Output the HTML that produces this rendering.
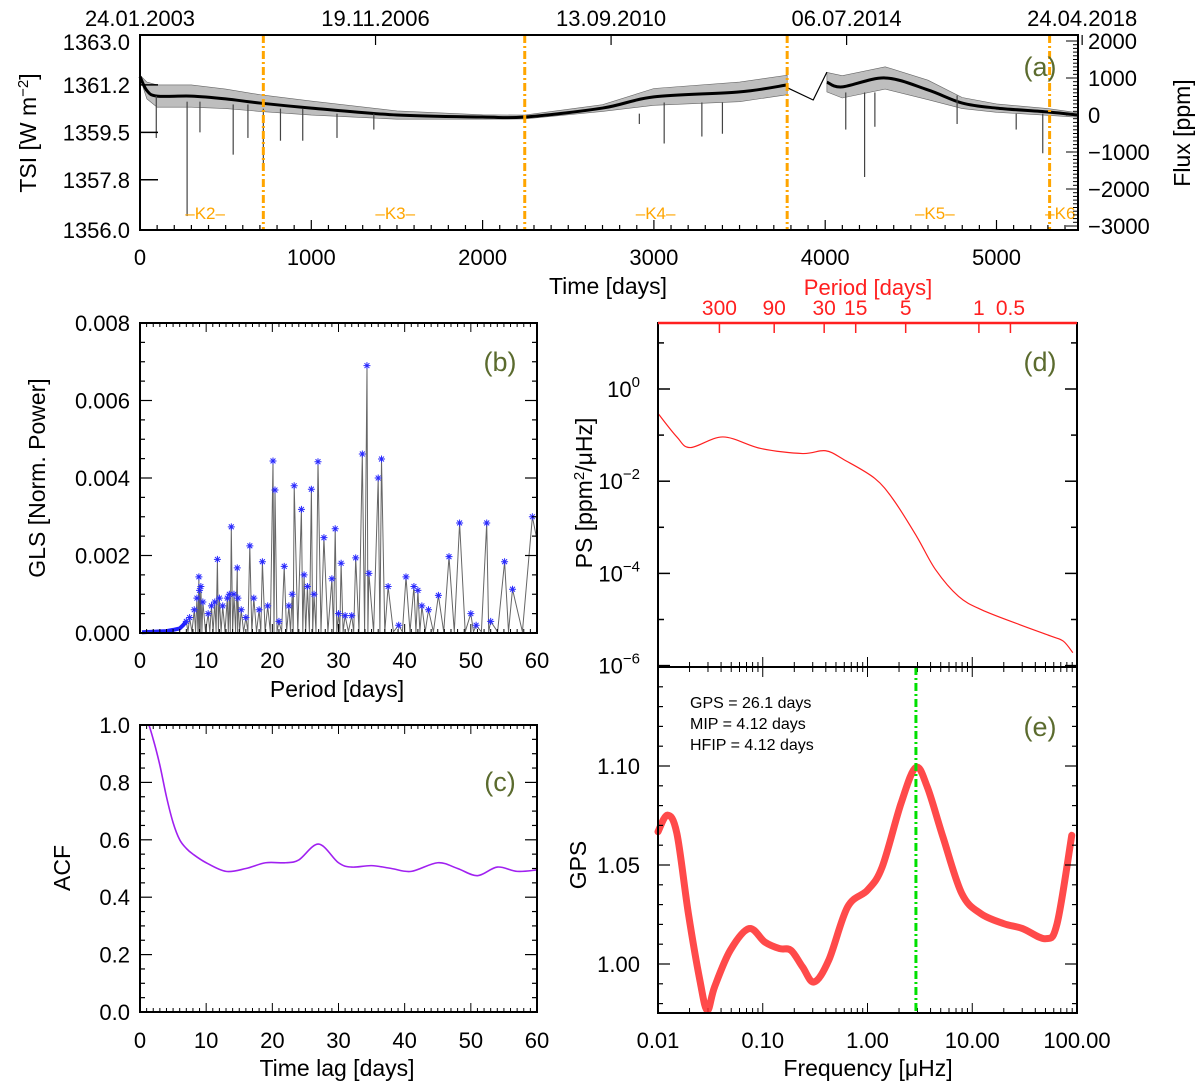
<!DOCTYPE html>
<html><head><meta charset="utf-8"><style>
html,body{margin:0;padding:0;background:#fff;}
svg{display:block;font-family:"Liberation Sans",sans-serif;}
</style></head><body>
<svg id="fig" width="1200" height="1089" viewBox="0 0 1200 1089" xmlns="http://www.w3.org/2000/svg">
<g id="g"></g>
</svg>
<script>
// ---------- DATA ----------
// Panel (a) TSI
const tsiDays1 = [0,40,100,300,500,700,1000,1500,2000,2246,2700,3000,3500,3778];
const tsiVals1 = [1361.5,1361.0,1360.8,1360.8,1360.7,1360.55,1360.37,1360.12,1360.05,1360.05,1360.37,1360.77,1360.95,1361.2];
const tsiBand1 = [0.05,0.3,0.4,0.4,0.35,0.3,0.25,0.15,0.08,0.07,0.12,0.3,0.35,0.35];
const tsiDays2 = [4010,4100,4350,4600,4800,5000,5300,5476];
const tsiVals2 = [1361.3,1361.13,1361.45,1361.02,1360.55,1360.37,1360.23,1360.12];
const tsiBand2 = [0.35,0.4,0.4,0.35,0.2,0.15,0.12,0.08];
const gapDays = [3778,3930,4010];
const gapVals = [1361.1,1360.66,1361.66];
const dipDays = [95,275,350,544,630,720,820,950,1150,1365,2915,3060,3280,3400,4120,4230,4290,4770,5115,5270];
const dipVals = [1359.3,1356.5,1359.5,1358.7,1359.3,1358.2,1359.2,1359.2,1359.3,1359.6,1359.8,1359.1,1359.35,1359.45,1359.6,1357.9,1359.7,1359.8,1359.6,1358.75];
const kBounds = [720,2246,3778,5310];
const kLabels = ["K2","K3","K4","K5","K6"];
const kLabelDays = [380,1490,3010,4640,5400];
const dateLabels = ["24.01.2003","19.11.2006","13.09.2010","06.07.2014","24.04.2018"];
const dateDays = [0,1375,2750,4125,5500];
const tsiTicks = [1363.0,1361.2,1359.5,1357.8,1356.0];
const fluxTicks = [2000,1000,0,-1000,-2000,-3000];
// Panel (b) GLS
const glsPeakP = [7.0,7.5,8.2,8.6,8.9,9.0,9.2,9.5,10.3,10.8,11.3,11.7,12.0,12.5,13.2,13.5,13.8,14.2,14.7,14.8,15.3,16.0,16.6,17.2,18.0,18.5,19.3,20.1,20.4,21.0,21.8,22.5,23.0,23.3,24.4,24.8,25.3,25.9,26.3,26.9,27.8,29.0,29.5,30.0,30.4,31.0,32.0,32.6,33.6,34.3,34.6,36.0,36.5,37.5,39.1,40.2,41.4,42.0,42.6,43.6,45.1,46.7,48.3,50.0,50.8,52.4,53.0,55.1,56.3,59.3];
const glsPeakV = [0.0003,0.0004,0.0006,0.0009,0.00145,0.0011,0.0012,0.0008,0.0005,0.0007,0.0008,0.0019,0.0009,0.0007,0.0009,0.001,0.00274,0.001,0.00168,0.0009,0.0006,0.0004,0.00225,0.0009,0.0006,0.00184,0.0007,0.00444,0.00369,0.0003,0.00172,0.0007,0.001,0.0038,0.00319,0.0015,0.0012,0.00371,0.001,0.00442,0.00246,0.0014,0.00269,0.0005,0.0018,0.00045,0.00045,0.00194,0.00462,0.0069,0.00154,0.004,0.00449,0.0012,0.0002,0.00145,0.0012,0.0011,0.0007,0.0006,0.00097,0.00197,0.00284,0.0005,0.0002,0.00284,0.0003,0.00184,0.00113,0.003];
const glsLowP = [0.3,2,4,5,6,6.5,7];
const glsLowV = [0.00002,0.00003,0.00005,0.00008,0.00012,0.0002,0.0003];
// Panel (c) ACF
const acfLag = [0,1,2,3,4,5,6,7,8,10,13,16,19,22,24,27,30,32,35,38,41,45,48,51,54,57,60];
const acfVal = [1.03,1.02,0.95,0.86,0.75,0.66,0.6,0.57,0.55,0.52,0.49,0.50,0.52,0.52,0.53,0.585,0.52,0.505,0.51,0.5,0.49,0.52,0.50,0.475,0.505,0.49,0.495];
// Panel (d) PS (log10 freq µHz, log10 power)
const psLogF = [-2.0,-1.82,-1.69,-1.38,-1.02,-0.62,-0.40,-0.22,0.07,0.25,0.47,0.65,0.87,1.09,1.45,1.75,1.87,1.96];
const psLogP = [-0.53,-1.04,-1.27,-1.04,-1.29,-1.40,-1.34,-1.54,-1.94,-2.41,-3.20,-3.92,-4.50,-4.79,-5.11,-5.36,-5.47,-5.72];
const periodTicks = [300,90,30,15,5,1,0.5];
const periodLabels = ["300","90","30","15","5","1","0.5"];
// Panel (e) GPS
const gpsLogF = [-2.0,-1.91,-1.82,-1.71,-1.60,-1.53,-1.46,-1.31,-1.13,-0.98,-0.84,-0.73,-0.62,-0.51,-0.37,-0.19,0.0,0.14,0.32,0.46,0.57,0.72,0.90,1.08,1.30,1.48,1.70,1.81,1.95];
const gpsVal = [1.0668,1.0752,1.066,1.0255,0.9917,0.9766,0.9884,1.0069,1.0179,1.0111,1.0078,1.0069,0.9985,0.9909,1.0019,1.0288,1.0373,1.049,1.0811,1.0992,1.0895,1.0642,1.0356,1.0255,1.0204,1.0179,1.0128,1.0204,1.065];
const gpsPeakFreq = [2.9];
const freqLabels = ["0.01","0.10","1.00","10.00","100.00"];
const gpsTicks = [1.10,1.05,1.00];
const gpsTickLabels = ["1.10","1.05","1.00"];

// ---------- HELPERS ----------
const NS = "http://www.w3.org/2000/svg";
const root = document.getElementById('g');
function mk(tag, attrs, parent){const e=document.createElementNS(NS,tag);for(const k in attrs)e.setAttribute(k,attrs[k]);(parent||root).appendChild(e);return e;}
function txt(x,y,s,opt){opt=opt||{};const t=mk('text',{x:x,y:y,'font-size':opt.size||22,'text-anchor':opt.anchor||'middle',fill:opt.fill||'#000'});if(opt.rot!==undefined)t.setAttribute('transform','rotate('+opt.rot+' '+x+' '+y+')');t.textContent=s;return t;}
function line(x1,y1,x2,y2,st,w){return mk('line',{x1:x1,y1:y1,x2:x2,y2:y2,stroke:st||'#000','stroke-width':w||1.5});}
function poly(pts,st,w,fill){return mk('polyline',{points:pts.map(p=>p[0].toFixed(1)+','+p[1].toFixed(1)).join(' '),fill:fill||'none',stroke:st,'stroke-width':w,'stroke-linejoin':'round'});}
function smooth(P){let s='M'+P[0][0]+','+P[0][1];for(let i=1;i<P.length;i++){const p0=P[i-2]||P[i-1],p1=P[i-1],p2=P[i],p3=P[i+1]||P[i];s+=` C${p1[0]+(p2[0]-p0[0])/6},${p1[1]+(p2[1]-p0[1])/6} ${p2[0]-(p3[0]-p1[0])/6},${p2[1]-(p3[1]-p1[1])/6} ${p2[0]},${p2[1]}`;}return s;}
function frame(x1,y1,x2,y2){return mk('rect',{x:x1,y:y1,width:x2-x1,height:y2-y1,fill:'none',stroke:'#000','stroke-width':2});}
const green='#5b6b2e', orange='#ffa500';

// ================= PANEL A =================
const xA=d=>140+d*0.1713, yA=v=>230-(v-1356)*27.9, yF=p=>115-p*0.037;
function band(days,vals,hw){const up=days.map((d,i)=>[xA(d),yA(vals[i]+hw[i])]);const dn=days.map((d,i)=>[xA(d),yA(vals[i]-hw[i])]).reverse();return mk('polygon',{points:up.concat(dn).map(p=>p[0].toFixed(1)+','+p[1].toFixed(1)).join(' '),fill:'#888','fill-opacity':0.55,stroke:'#666','stroke-width':0.6});}
let e;
e=band(tsiDays1,tsiVals1,tsiBand1);

e=band(tsiDays2,tsiVals2,tsiBand2);

e=mk('path',{d:smooth(tsiDays1.map((d,i)=>[xA(d),yA(tsiVals1[i])])),fill:'none',stroke:'#000','stroke-width':3});

e=mk('path',{d:smooth(tsiDays2.map((d,i)=>[xA(d),yA(tsiVals2[i])])),fill:'none',stroke:'#000','stroke-width':3});

e=poly(gapDays.map((d,i)=>[xA(d),yA(gapVals[i])]),'#000',1.2);

dipDays.forEach((d,i)=>{const j=tsiDays1.concat(tsiDays2);const v=tsiVals1.concat(tsiVals2);let k=0;while(k<j.length-1&&j[k+1]<d)k++;
 const el=line(xA(d),yA(v[k]-0.2),xA(d),yA(dipVals[i]),'#444',1.2);
 
 });
kBounds.forEach(d=>{const el=mk('line',{x1:xA(d),y1:35,x2:xA(d),y2:230,stroke:orange,'stroke-width':3,'stroke-dasharray':'8,3,2,3'});
 
 });
kLabels.forEach((k,i)=>{const el=txt(xA(kLabelDays[i]),219,'\u2013'+k+'\u2013',{fill:orange,size:17});
 
 });
e=mk('rect',{x:1079,y:200,width:8,height:25,fill:'#fff'});

e=frame(140,35,1078,230);

for(let d=0;d<=5400;d+=100){const big=d%1000===0;line(xA(d),230,xA(d),230-(big?10:5),'#000',1.2);}
dateDays.forEach((d,i)=>{line(xA(d),35,xA(d),45,'#000',1.2);const el=txt(xA(d),26,dateLabels[i],{size:22});
 
 });
[0,1000,2000,3000,4000,5000].forEach(d=>{const el=txt(xA(d),265,String(d));
 
 });
tsiTicks.forEach(v=>{line(140,yA(v),158,yA(v),'#000',1.5);const el=txt(130,Math.max(yA(v)+8,50),v.toFixed(1),{anchor:'end'});
 
 });
for(let p=-3000;p<=2000;p+=100){const big=p%1000===0;line(1078,yF(p),1078-(big?12:5),yF(p),'#000',1);}
fluxTicks.forEach(p=>{const el=txt(1088,yF(p)+8,(p<0?'\u2212'+(-p):String(p)),{anchor:'start'});
 
 });
e=txt(608,294,'Time [days]',{size:23});

e=mk('text',{x:36,y:133,'font-size':23,'text-anchor':'middle',transform:'rotate(-90 36 133)'});
e.innerHTML='TSI [W m<tspan dy="-8" font-size="15">\u22122</tspan><tspan dy="8">]</tspan>';

e=txt(1190,133,'Flux [ppm]',{size:23,rot:-90});

e=txt(1040,76,'(a)',{size:27,fill:green});


// ================= PANEL B =================
const xB=p=>140+p*(397/60), yB=v=>633-v*38750;
const ord=glsPeakP.map((p,i)=>i).sort((a,b)=>glsPeakP[a]-glsPeakP[b]);
const glsPts=[[xB(7),yB(0.0003)]];
ord.forEach((i,n)=>{if(n>0){const pm=(glsPeakP[ord[n-1]]+glsPeakP[i])/2;glsPts.push([xB(pm),yB(0.00003)]);}glsPts.push([xB(glsPeakP[i]),yB(glsPeakV[i])]);});
glsPts.push([xB(60),yB(0.0024)]);
e=poly(glsPts,'#666',1);

e=poly(glsLowP.map((p,i)=>[xB(p),yB(glsLowV[i])]),'#2020ff',4);

glsPeakP.forEach((p,i)=>{const x=xB(p),y=yB(glsPeakV[i]);const s=3.5;
 const gg=mk('path',{d:`M${x-s},${y}H${x+s}M${x},${y-s}V${y+s}M${x-s*0.7},${y-s*0.7}L${x+s*0.7},${y+s*0.7}M${x-s*0.7},${y+s*0.7}L${x+s*0.7},${y-s*0.7}`,stroke:'#2a2aff','stroke-width':1,fill:'none'});
 
 });
e=frame(140,323,537,633);

for(let p=0;p<=60;p+=1){const big=p%10===0;line(xB(p),633,xB(p),633-(big?9:4),'#000',1);line(xB(p),323,xB(p),323+(big?9:4),'#000',1);}
for(let v=0;v<=0.008001;v+=0.0005){const big=Math.round(v*10000)%20===0;line(140,yB(v),140+(big?12:5),yB(v),'#000',1.2);line(537,yB(v),537-(big?12:5),yB(v),'#000',1.2);}
[0,0.002,0.004,0.006,0.008].forEach(v=>{const el=txt(130,yB(v)+8,v.toFixed(3),{anchor:'end'});
 
 });
[0,10,20,30,40,50,60].forEach(p=>{const el=txt(xB(p),668,String(p));
 
 });
e=txt(337,697,'Period [days]',{size:23});

e=txt(45,478,'GLS [Norm. Power]',{size:23,rot:-90});

e=txt(500,371,'(b)',{size:27,fill:green});


// ================= PANEL C =================
const xC=p=>140+p*(397/60), yC=v=>1012-v*287;
e=mk('path',{d:smooth(acfLag.map((l,i)=>[xC(l),yC(acfVal[i])])),fill:'none',stroke:'#a020f0','stroke-width':1.6});

e=mk('rect',{x:130,y:700,width:20,height:24,fill:'#fff'});

e=frame(140,725,537,1012);

for(let p=0;p<=60;p+=1){const big=p%10===0;line(xC(p),1012,xC(p),1012-(big?9:4),'#000',1);line(xC(p),725,xC(p),725+(big?9:4),'#000',1);}
for(let k=0;k<=20;k++){const v=k*0.05;const big=k%4===0;line(140,yC(v),140+(big?12:5),yC(v),'#000',1.2);line(537,yC(v),537-(big?12:5),yC(v),'#000',1.2);}
[0,0.2,0.4,0.6,0.8,1.0].forEach(v=>{const el=txt(130,yC(v)+8,v.toFixed(1),{anchor:'end'});
 
 });
[0,10,20,30,40,50,60].forEach(p=>{const el=txt(xC(p),1048,String(p));
 
 });
e=txt(337,1076,'Time lag [days]',{size:23});

e=txt(70,868,'ACF',{size:23,rot:-90});

e=txt(500,791,'(c)',{size:27,fill:green});


// ================= PANEL D =================
const xL=lf=>658+(lf+2)*104.75, yD=lp=>389-lp*46.1;
e=mk('path',{d:smooth(psLogF.map((f,i)=>[xL(f),yD(psLogP[i])])),fill:'none',stroke:'#ff2020','stroke-width':1.2});

e=frame(658,323,1077,667);

e=line(658,323,1077,323,'#ff2020',2.5);

for(let d=-2;d<2;d++){for(let m=1;m<10;m++){const x=xL(d+Math.log10(m));const big=m===1;line(x,667,x,667-(big?10:5),'#000',1);line(x,1013,x,1013-(big?10:5),'#000',1);line(x,667,x,667+(big?10:5),'#000',1);}}
for(let lp=-6;lp<=1;lp++){const big=lp%2===0;line(658,yD(lp),658+(big?12:6),yD(lp),'#000',1.5);line(1077,yD(lp),1077-(big?12:6),yD(lp),'#000',1.5);}
[0,-2,-4,-6].forEach(lp=>{const el=mk('text',{x:640,y:yD(lp)+8,'font-size':22,'text-anchor':'end'});
 el.innerHTML='10<tspan dy="-10" font-size="15">'+(lp===0?'0':'\u2212'+(-lp))+'</tspan>';
 
 });
periodTicks.forEach((p,i)=>{const x=xL(Math.log10(11.574/p));line(x,323,x,333,'#ff2020',1.5);const el=txt(x,315,periodLabels[i],{fill:'#ff2020',size:21});
 
 });
e=txt(868,295,'Period [days]',{size:22,fill:'#ff2020'});

e=mk('text',{x:592,y:493,'font-size':23,'text-anchor':'middle',transform:'rotate(-90 592 493)'});
e.innerHTML='PS [ppm<tspan dy="-8" font-size="15">2</tspan><tspan dy="8">/\u03bcHz]</tspan>';

e=txt(1040,371,'(d)',{size:27,fill:green});


// ================= PANEL E =================
const yE=v=>766-(v-1.10)*1980;
e=mk('path',{d:smooth(gpsLogF.map((f,i)=>[xL(f),yE(gpsVal[i])])),fill:'none',stroke:'#ff2a2a','stroke-width':7,'stroke-opacity':0.85,'stroke-linecap':'round'});

e=mk('rect',{x:640,y:1014,width:440,height:12,fill:'#fff'});

gpsPeakFreq.forEach(f=>{const el=mk('line',{x1:xL(Math.log10(f)),y1:667,x2:xL(Math.log10(f)),y2:1013,stroke:'#00e000','stroke-width':3,'stroke-dasharray':'8,3,2,3'});
 
 });
e=frame(658,667,1077,1013);

for(let k=98;k<=115;k++){const v=k/100;const big=k%5===0;line(658,yE(v),658+(big?12:5),yE(v),'#000',1.2);line(1077,yE(v),1077-(big?12:5),yE(v),'#000',1.2);}
gpsTicks.forEach((v,i)=>{const el=txt(640,yE(v)+8,gpsTickLabels[i],{anchor:'end'});
 
 });
freqLabels.forEach((s,i)=>{const el=txt(xL(i-2),1048,s);
 
 });
e=mk('text',{x:868,y:1076,'font-size':23,'text-anchor':'middle'});
e.textContent='Frequency [\u03bcHz]';

e=txt(586,865,'GPS',{size:23,rot:-90});

[['GPS  =  26.1  days',708],['MIP  =  4.12  days',729],['HFIP  =  4.12  days',750]].forEach(a=>{const el=txt(690,a[1],a[0],{anchor:'start',size:16});
 
 });
e=txt(1040,736,'(e)',{size:27,fill:green});

</script>
</body></html>
